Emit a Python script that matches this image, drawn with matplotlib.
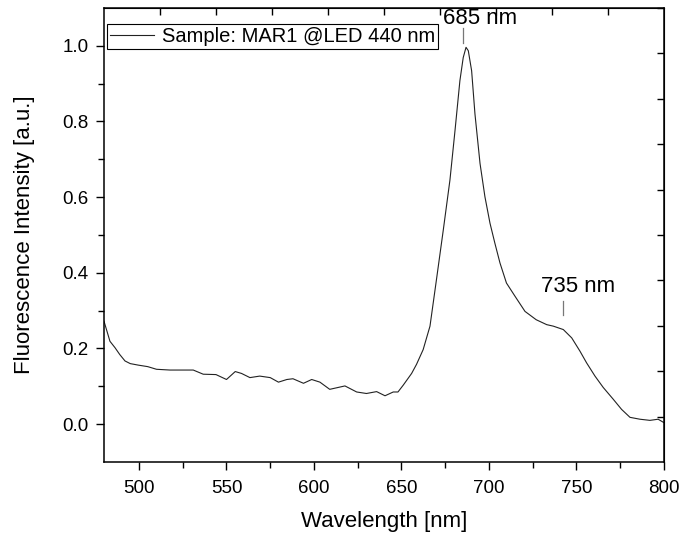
import matplotlib
matplotlib.use("Agg")
import matplotlib.pyplot as plt
import numpy as np

plt.rcParams["font.family"] = ["Liberation Sans", "DejaVu Sans"]

# spectrum (wavelength nm, normalised intensity)
wavelength = [480, 483.4, 486.3, 489, 492, 495, 499.6, 505, 510, 517.7, 523, 531,
              536.7, 544, 550, 555, 558.6, 563.4, 569, 575, 579.7, 584.5, 588, 594,
              598.7, 603.4, 609, 617.7, 624.4, 630, 635.8, 640.6, 645.3, 648, 651,
              655.8, 658.6, 662.4, 666.3, 670, 673.9, 677.7, 680.6, 683.4, 685.3,
              686.9, 688.2, 690.1, 692, 694.9, 697.7, 700.6, 703.4, 706.3, 710,
              714.9, 720.6, 727, 733, 736.8, 742.5, 747.3, 752, 755.8, 760.6, 765.3,
              771, 775.8, 780.6, 786.3, 792, 796.7, 800]
intensity = [0.272, 0.219, 0.202, 0.184, 0.167, 0.160, 0.156, 0.152, 0.145, 0.143,
             0.143, 0.143, 0.132, 0.131, 0.118, 0.139, 0.134, 0.123, 0.127, 0.123,
             0.111, 0.118, 0.120, 0.108, 0.118, 0.111, 0.092, 0.101, 0.085, 0.081,
             0.086, 0.075, 0.085, 0.085, 0.103, 0.134, 0.158, 0.197, 0.259, 0.382,
             0.513, 0.645, 0.776, 0.908, 0.969, 0.996, 0.987, 0.934, 0.82, 0.689,
             0.601, 0.531, 0.478, 0.426, 0.373, 0.338, 0.298, 0.276, 0.263, 0.259,
             0.25, 0.228, 0.193, 0.162, 0.127, 0.097, 0.066, 0.039, 0.018, 0.013,
             0.010, 0.013, 0.004]

peak_marks = [685.1, 742.3]
peak_labels = ["685 nm", "735 nm"]
mark_lo = [1.008, 0.289]
mark_hi = [1.047, 0.326]
label_x = [694.8, 750.9]
label_y = [1.071, 0.363]

fig = plt.figure(figsize=(6.82, 5.39), dpi=100)
ax = fig.add_axes([0.1525, 0.1429, 0.821, 0.8423])

ax.plot(wavelength, intensity, color="#222222", lw=0.8,
        label="Sample: MAR1 @LED 440 nm")

for wl, lo, hi in zip(peak_marks, mark_lo, mark_hi):
    ax.plot([wl, wl], [lo, hi], color="#777777", lw=0.9)
for tx, ty, lab in zip(label_x, label_y, peak_labels):
    ax.text(tx, ty, lab, fontsize=16, ha="center", va="center")

ax.set_xlim(480, 800)
ax.set_ylim(-0.1, 1.1)
ax.set_xticks(np.arange(500, 801, 50))
ax.set_xticks(np.arange(525, 800, 50), minor=True)
ax.set_yticks(np.arange(0, 1.01, 0.2))
ax.set_yticks(np.arange(0.1, 1.0, 0.2), minor=True)
ax.yaxis.set_major_formatter(matplotlib.ticker.FormatStrFormatter("%.1f"))
ax.tick_params(which="major", direction="out", length=6, width=1, labelsize=13.5,
               top=False, right=False)
ax.tick_params(axis="x", which="major", pad=7)
ax.tick_params(axis="y", which="major", pad=5)
ax.tick_params(which="minor", direction="out", length=4, width=1,
               top=False, right=False)
for s in ax.spines.values():
    s.set_linewidth(1.1)

sx = ax.secondary_xaxis("top")
sx.set_xticks(np.arange(512, 800, 32))
sx.tick_params(direction="in", length=5, width=1, labelbottom=False, labeltop=False)
sy = ax.secondary_yaxis("right")
sy.set_yticks(np.arange(-0.1, 1.1, 0.12)[1:])
sy.tick_params(direction="in", length=5, width=1, labelleft=False, labelright=False)

ax.set_xlabel("Wavelength [nm]", fontsize=16, labelpad=10)
ax.set_ylabel("Fluorescence Intensity [a.u.]", fontsize=16, labelpad=20)

leg = ax.legend(loc="upper left", bbox_to_anchor=(0.005, 0.965), borderaxespad=0,
                fancybox=False, edgecolor="black", framealpha=1, fontsize=14.5,
                handlelength=2.2, borderpad=0.15, handletextpad=0.4)
leg.get_frame().set_linewidth(0.8)

fig.savefig("out.png", dpi=100)
